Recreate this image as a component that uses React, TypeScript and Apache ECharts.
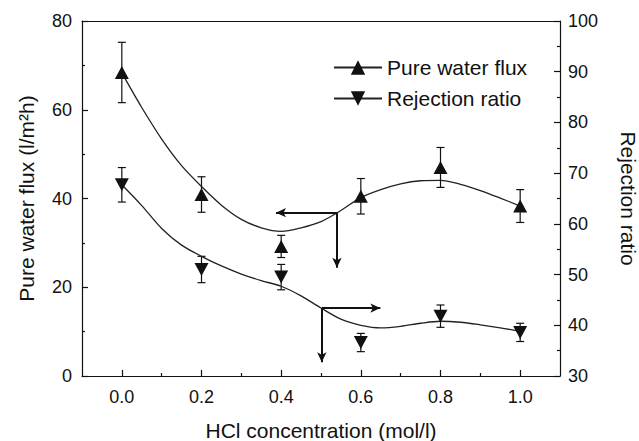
import React, { useEffect, useRef } from "react";
import * as echarts from "echarts";

// Measured points
const xValues = [0, 0.2, 0.4, 0.6, 0.8, 1.0];
const fluxMean = [68.4, 40.9, 29.2, 40.5, 47.0, 38.3];
const fluxErr = [6.8, 4.0, 2.5, 4.0, 4.5, 3.7];
const rejMean = [67.7, 51.0, 49.5, 36.6, 41.8, 38.6];
const rejErr = [3.4, 2.6, 2.5, 1.8, 2.2, 1.8];

// Fitted curves
const fitX = [0, 0.05, 0.1, 0.15, 0.2, 0.25, 0.3, 0.35, 0.4, 0.45, 0.5, 0.55, 0.6, 0.65, 0.7, 0.75, 0.8, 0.85, 0.9, 0.95, 1.0];
const fluxFit = [68.3, 60.5, 53.4, 47.4, 42.7, 38.5, 35.3, 33.4, 32.6, 33.4, 34.8, 37.3, 40.2, 42.0, 43.3, 44.0, 44.1, 43.2, 41.8, 40.1, 38.3];
const rejFit = [67.7, 63.6, 59.1, 55.8, 53.6, 51.7, 50.1, 48.8, 47.7, 45.8, 43.4, 41.2, 40.0, 39.5, 39.8, 40.4, 40.8, 40.6, 40.1, 39.5, 38.8];

// Annotation arrows
const fluxArrowStart = [0.54, 36.8];
const fluxArrowLeftX = 0.387;
const fluxArrowDownY = 24.4;
const rejArrowStart = [0.502, 43.4];
const rejArrowRightX = 0.649;
const rejArrowDownY = 32.7;

const xMajor = [0, 0.2, 0.4, 0.6, 0.8, 1.0];
const xMinor = [0.1, 0.3, 0.5, 0.7, 0.9];

const FONT = "Liberation Sans, Arial, sans-serif";
const INK = "#111";

function errorBarItem(params: any, api: any) {
  const x = api.value(0);
  const lo = api.value(1);
  const hi = api.value(2);
  const pHi = api.coord([x, hi]);
  const pLo = api.coord([x, lo]);
  const w = 4;
  const style = { stroke: INK, lineWidth: 1.2 };
  return {
    type: "group",
    children: [
      { type: "line", shape: { x1: pHi[0], y1: pHi[1], x2: pLo[0], y2: pLo[1] }, style },
      { type: "line", shape: { x1: pHi[0] - w, y1: pHi[1], x2: pHi[0] + w, y2: pHi[1] }, style },
      { type: "line", shape: { x1: pLo[0] - w, y1: pLo[1], x2: pLo[0] + w, y2: pLo[1] }, style },
    ],
  };
}

export default function App() {
  const ref = useRef<HTMLDivElement>(null);
  useEffect(() => {
    if (!ref.current) return;
    const chart = echarts.init(ref.current, null, { renderer: "svg" });
    const arrowLine = { color: INK, width: 2, type: "solid" };
    const option: any = {
      animation: false,
      backgroundColor: "#fff",
      textStyle: { fontFamily: FONT, color: INK },
      grid: { left: 82, right: 79, top: 21, bottom: 65, containLabel: false, outerBoundsMode: "none" },
      legend: {
        orient: "vertical",
        left: 328,
        top: 52,
        itemWidth: 48,
        itemHeight: 18,
        itemGap: 10,
        data: ["Pure water flux", "Rejection ratio"],
        textStyle: { fontSize: 21, color: INK, fontFamily: FONT },
        selectedMode: false,
      },
      xAxis: [
        {
          type: "value",
          min: -0.1,
          max: 1.1,
          position: "bottom",
          name: "HCl concentration (mol/l)",
          nameLocation: "middle",
          nameGap: 44,
          nameTextStyle: { fontSize: 21, color: INK, fontFamily: FONT },
          axisLine: { onZero: false, lineStyle: { color: INK, width: 1.2 } },
          axisTick: { inside: true, length: 6, customValues: xMajor, lineStyle: { color: INK, width: 1.2 } },
          axisLabel: {
            customValues: xMajor,
            formatter: (v: number) => v.toFixed(1),
            fontSize: 18,
            margin: 12,
            color: INK,
            fontFamily: FONT,
          },
          splitLine: { show: false },
        },
        {
          type: "value",
          min: -0.1,
          max: 1.1,
          position: "bottom",
          axisLine: { show: false, onZero: false },
          axisTick: { inside: true, length: 3, customValues: xMinor, lineStyle: { color: INK, width: 1.2 } },
          axisLabel: { show: false },
          splitLine: { show: false },
        },
        {
          type: "value",
          min: -0.1,
          max: 1.1,
          position: "top",
          axisLine: { onZero: false, lineStyle: { color: INK, width: 1.2 } },
          axisTick: { show: false },
          axisLabel: { show: false },
          splitLine: { show: false },
        },
      ],
      yAxis: [
        {
          type: "value",
          min: 0,
          max: 80,
          interval: 20,
          position: "left",
          name: "Pure water flux (l/m²h)",
          nameLocation: "middle",
          nameGap: 45,
          nameTextStyle: { fontSize: 21, color: INK, fontFamily: FONT },
          axisLine: { show: true, onZero: false, lineStyle: { color: INK, width: 1.2 } },
          axisTick: { inside: true, length: 6, lineStyle: { color: INK, width: 1.2 } },
          minorTick: { show: true, splitNumber: 2, length: 3, lineStyle: { color: INK, width: 1.2 } },
          axisLabel: { fontSize: 18, margin: 10, color: INK, fontFamily: FONT },
          splitLine: { show: false },
        },
        {
          type: "value",
          min: 30,
          max: 100,
          interval: 10,
          position: "right",
          name: "Rejection ratio",
          nameLocation: "middle",
          nameRotate: -90,
          nameGap: 58,
          nameTextStyle: { fontSize: 21, color: INK, fontFamily: FONT },
          axisLine: { show: true, onZero: false, lineStyle: { color: INK, width: 1.2 } },
          axisTick: { inside: true, length: 6, lineStyle: { color: INK, width: 1.2 } },
          minorTick: { show: true, splitNumber: 2, length: 3, lineStyle: { color: INK, width: 1.2 } },
          axisLabel: { fontSize: 18, margin: 8, color: INK, fontFamily: FONT },
          splitLine: { show: false },
        },
      ],
      series: [
        {
          name: "Pure water flux",
          type: "line",
          xAxisIndex: 0,
          yAxisIndex: 0,
          smooth: 0.3,
          showSymbol: false,
          symbol: "triangle",
          symbolSize: [14, 13],
          itemStyle: { color: INK },
          lineStyle: { color: "#222", width: 1.3 },
          data: fitX.map((x, i) => [x, fluxFit[i]]),
          markLine: {
            silent: true,
            symbol: ["none", "arrow"],
            symbolSize: [7, 10],
            label: { show: false },
            lineStyle: arrowLine,
            data: [
              [{ coord: fluxArrowStart }, { coord: [fluxArrowLeftX, fluxArrowStart[1]] }],
              [{ coord: fluxArrowStart }, { coord: [fluxArrowStart[0], fluxArrowDownY] }],
            ],
          },
          z: 3,
        },
        {
          name: "Rejection ratio",
          type: "line",
          xAxisIndex: 0,
          yAxisIndex: 1,
          smooth: 0.3,
          showSymbol: false,
          symbol: "triangle",
          symbolRotate: 180,
          symbolSize: [14, 13],
          itemStyle: { color: INK },
          lineStyle: { color: "#222", width: 1.3 },
          data: fitX.map((x, i) => [x, rejFit[i]]),
          markLine: {
            silent: true,
            symbol: ["none", "arrow"],
            symbolSize: [7, 10],
            label: { show: false },
            lineStyle: arrowLine,
            data: [
              [{ coord: rejArrowStart }, { coord: [rejArrowRightX, rejArrowStart[1]] }],
              [{ coord: rejArrowStart }, { coord: [rejArrowStart[0], rejArrowDownY] }],
            ],
          },
          z: 3,
        },
        {
          name: "fluxErr",
          type: "custom",
          xAxisIndex: 0,
          yAxisIndex: 0,
          renderItem: errorBarItem,
          encode: { x: 0, y: [1, 2] },
          data: xValues.map((x, i) => [x, fluxMean[i] - fluxErr[i], fluxMean[i] + fluxErr[i]]),
          z: 2,
        },
        {
          name: "rejErr",
          type: "custom",
          xAxisIndex: 0,
          yAxisIndex: 1,
          renderItem: errorBarItem,
          encode: { x: 0, y: [1, 2] },
          data: xValues.map((x, i) => [x, rejMean[i] - rejErr[i], rejMean[i] + rejErr[i]]),
          z: 2,
        },
        {
          name: "fluxPts",
          type: "scatter",
          xAxisIndex: 0,
          yAxisIndex: 0,
          symbol: "triangle",
          symbolSize: [14, 13],
          itemStyle: { color: INK, opacity: 1 },
          data: xValues.map((x, i) => [x, fluxMean[i]]),
          z: 4,
        },
        {
          name: "rejPts",
          type: "scatter",
          xAxisIndex: 0,
          yAxisIndex: 1,
          symbol: "triangle",
          symbolRotate: 180,
          symbolSize: [14, 13],
          itemStyle: { color: INK, opacity: 1 },
          data: xValues.map((x, i) => [x, rejMean[i]]),
          z: 4,
        },
      ],
    };
    chart.setOption(option);
    return () => chart.dispose();
  }, []);
  return (
    <div
      ref={ref}
      style={{ position: "fixed", left: 0, top: 0, width: 639, height: 441, background: "#fff" }}
    />
  );
}
